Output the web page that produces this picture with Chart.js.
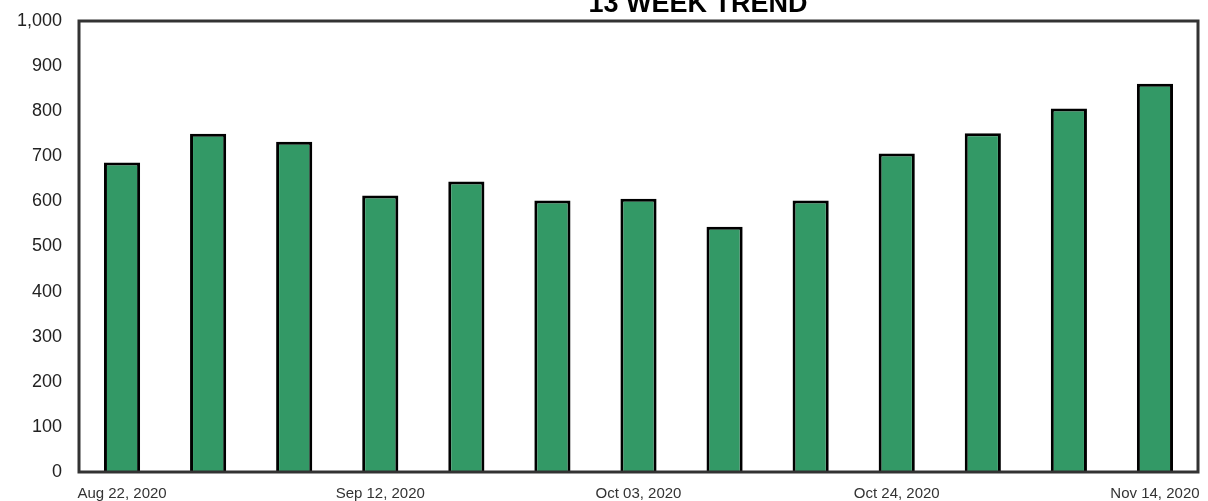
<!DOCTYPE html>
<html>
<head>
<meta charset="utf-8">
<script src="https://cdn.jsdelivr.net/npm/chart.js@4.4.1/dist/chart.umd.min.js"></script>
<style>
  html, body { margin: 0; padding: 0; background: #fff; }
  #wrap { width: 1208px; height: 501px; position: relative; }
</style>
</head>
<body>
<div id="wrap"><canvas id="trendChart"></canvas></div>
<script>
const weeks = ['Aug 22, 2020', 'Aug 29, 2020', 'Sep 05, 2020', 'Sep 12, 2020', 'Sep 19, 2020',
    'Sep 26, 2020', 'Oct 03, 2020', 'Oct 10, 2020', 'Oct 17, 2020', 'Oct 24, 2020',
    'Oct 31, 2020', 'Nov 07, 2020', 'Nov 14, 2020'];
const counts = [686, 750, 732, 613, 644, 602, 606, 544, 602, 706, 751, 806, 861];
const yTicks = [0, 100, 200, 300, 400, 500, 600, 700, 800, 900, 1000];
const chartTitle = '13 WEEK TREND';

// frame around the plot area + title that sits partly off the top
const framePlugin = {
    id: 'frame',
    afterDraw(chart) {
        const { ctx, chartArea: a } = chart;
        ctx.save();
        ctx.strokeStyle = '#333333';
        ctx.lineWidth = 3;
        ctx.strokeRect(a.left, a.top, a.right - a.left, a.bottom - a.top);
        ctx.fillStyle = '#000';
        ctx.font = 'bold 27px "Liberation Sans", Arial, sans-serif';
        ctx.textAlign = 'center';
        ctx.textBaseline = 'alphabetic';
        ctx.fillText(chartTitle, 698, 12);
        ctx.restore();
    }
};

const ctx = document.getElementById('trendChart').getContext('2d');
const trendChart = new Chart(ctx, {
    type: 'bar',
    data: {
        labels: weeks,
        datasets: [{
            label: 'Weekly',
            data: counts,
            backgroundColor: '#339966',
            borderColor: '#000000',
            borderWidth: 3,
            categoryPercentage: 1,
            barPercentage: 0.42
        }]
    },
    options: {
        responsive: true,
        maintainAspectRatio: false,
        animation: false,
        layout: {
            padding: { top: 21, right: 10, left: 0, bottom: 0 }
        },
        plugins: {
            legend: { display: false },
            tooltip: { enabled: false }
        },
        scales: {
            x: {
                grid: { display: false, drawTicks: false },
                border: { display: false },
                afterFit(axis) {
                    axis.height = 29;
                    axis.paddingLeft = 0;
                    axis.paddingRight = 0;
                },
                ticks: {
                    autoSkip: false,
                    maxRotation: 0,
                    padding: 13,
                    color: '#333333',
                    font: { family: '"Liberation Sans", Arial, sans-serif', size: 15 },
                    callback(val, i) { return i % 3 === 0 ? weeks[i] : ''; }
                }
            },
            y: {
                min: 0,
                max: 1000,
                afterBuildTicks(axis) { axis.ticks = yTicks.map(v => ({ value: v })); },
                afterFit(axis) {
                    axis.width = 79;
                    axis.paddingTop = 0;
                    axis.paddingBottom = 0;
                },
                grid: { display: false, drawTicks: false },
                border: { display: false },
                ticks: {
                    padding: 17,
                    color: '#222222',
                    font: { family: '"Liberation Sans", Arial, sans-serif', size: 18 },
                    callback(v) { return v.toLocaleString('en-US'); }
                }
            }
        }
    },
    plugins: [framePlugin]
});
</script>
</body>
</html>
